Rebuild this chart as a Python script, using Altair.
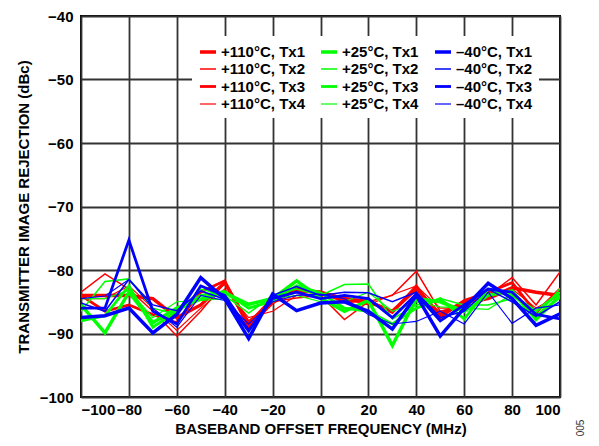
import altair as alt
import pandas as pd

freq = list(range(-100, 101, 10))

red_tx1 = [-84.0, -84.0, -84.0, -84.5, -87.5, -85.5, -82.0, -88.5, -84.5, -83.3, -83.5, -84.5, -85.0, -86.5, -83.0, -87.0, -85.0, -84.5, -82.8, -83.5, -84.0]
red_tx2 = [-83.5, -80.6, -83.0, -86.5, -90.4, -86.5, -82.0, -88.0, -85.0, -84.4, -84.0, -87.8, -85.0, -84.0, -80.2, -86.5, -85.5, -84.0, -81.2, -85.5, -80.3]
red_tx3 = [-84.0, -86.5, -85.5, -87.0, -88.3, -83.5, -81.7, -89.0, -85.2, -83.0, -83.5, -85.0, -84.8, -86.7, -82.5, -87.5, -84.8, -83.5, -82.0, -86.7, -83.0]
red_tx4 = [-84.5, -84.5, -82.5, -86.0, -89.5, -86.0, -83.0, -87.5, -86.5, -84.0, -83.8, -84.5, -85.5, -83.9, -82.5, -86.0, -86.0, -84.5, -83.0, -86.0, -84.0]

green_tx1 = [-85.5, -89.9, -83.5, -88.3, -86.0, -84.6, -83.6, -85.4, -84.5, -81.7, -84.4, -86.5, -84.8, -91.9, -84.5, -85.0, -86.5, -84.0, -83.3, -87.8, -84.0]
green_tx2 = [-86.5, -81.8, -81.4, -86.0, -87.0, -83.0, -84.0, -86.8, -84.0, -83.0, -84.0, -82.3, -82.2, -87.7, -85.5, -84.5, -85.5, -85.5, -84.5, -87.5, -82.9]
green_tx3 = [-88.0, -87.2, -82.5, -89.0, -86.5, -84.0, -83.4, -86.0, -84.9, -82.5, -83.6, -86.0, -86.5, -88.5, -86.0, -84.5, -87.7, -83.0, -84.0, -86.5, -83.5]
green_tx4 = [-84.5, -84.5, -83.2, -87.5, -85.0, -84.8, -84.5, -85.5, -84.5, -84.0, -85.0, -85.0, -83.5, -86.5, -85.0, -85.8, -86.0, -86.2, -83.8, -87.0, -84.5]

blue_tx1 = [-87.5, -87.2, -86.0, -89.9, -87.0, -81.2, -84.5, -90.8, -83.8, -86.4, -85.2, -85.0, -86.5, -89.3, -84.0, -90.4, -86.0, -82.1, -84.5, -88.7, -86.9]
blue_tx2 = [-85.2, -86.5, -81.5, -85.5, -86.4, -83.3, -84.6, -89.8, -84.0, -82.6, -84.0, -83.5, -83.6, -85.0, -83.5, -87.5, -86.5, -83.0, -85.0, -87.3, -85.0]
blue_tx3 = [-86.0, -86.0, -75.3, -86.5, -88.5, -82.5, -84.0, -89.5, -84.5, -83.5, -84.5, -84.0, -84.5, -87.5, -83.8, -88.0, -85.5, -83.0, -83.5, -87.0, -87.7]
blue_tx4 = [-84.5, -84.1, -81.5, -86.0, -89.0, -84.0, -84.8, -88.5, -85.0, -84.0, -83.8, -84.5, -87.0, -88.5, -88.1, -86.5, -88.5, -83.5, -88.4, -86.0, -85.5]

temps = ["+110°C", "+25°C", "–40°C"]
temp_colors = ["#FF0000", "#00FF00", "#0000FF"]
txs = ["Tx1", "Tx2", "Tx3", "Tx4"]
tx_widths = [3.5, 1.5, 2.8, 1.2]

series_values = {
    ("+110°C", "Tx1"): red_tx1, ("+110°C", "Tx2"): red_tx2,
    ("+110°C", "Tx3"): red_tx3, ("+110°C", "Tx4"): red_tx4,
    ("+25°C", "Tx1"): green_tx1, ("+25°C", "Tx2"): green_tx2,
    ("+25°C", "Tx3"): green_tx3, ("+25°C", "Tx4"): green_tx4,
    ("–40°C", "Tx1"): blue_tx1, ("–40°C", "Tx2"): blue_tx2,
    ("–40°C", "Tx3"): blue_tx3, ("–40°C", "Tx4"): blue_tx4,
}

# Vega fills the legend grid column by column: one column per temperature
domain = [f"{t}, {tx}" for t in temps for tx in txs]
color_range = [temp_colors[temps.index(t)] for t in temps for tx in txs]
width_range = [tx_widths[txs.index(tx)] for t in temps for tx in txs]

rows = []
order = 0
for t in temps:
    for tx in txs:
        for f, v in zip(freq, series_values[(t, tx)]):
            rows.append({"freq": f, "value": v, "series": f"{t}, {tx}", "order": order})
        order += 1
df = pd.DataFrame(rows)

FONT = "Liberation Sans"

legend = alt.Legend(
    title=None, orient="none", legendX=111, legendY=20, columns=3,
    symbolType="stroke", symbolSize=256, rowPadding=0, columnPadding=9,
    labelFont=FONT, labelFontSize=15, labelFontWeight="bold", labelColor="black",
    labelLimit=300, fillColor="white", padding=6, labelOffset=3,
)

lines = alt.Chart(df).mark_line(clip=True, strokeJoin="miter").encode(
    x=alt.X("freq:Q", scale=alt.Scale(domain=[-100, 100], nice=False, zero=False),
            axis=alt.Axis(values=list(range(-100, 101, 20)), labelOverlap=False,
                          title="BASEBAND OFFSET FREQUENCY (MHz)", labelPadding=5, titlePadding=4)),
    y=alt.Y("value:Q", scale=alt.Scale(domain=[-100, -40], nice=False, zero=False),
            axis=alt.Axis(values=list(range(-100, -39, 10)), labelOverlap=False,
                          title="TRANSMITTER IMAGE REJECTION (dBc)", labelPadding=8, titlePadding=8)),
    color=alt.Color("series:N", scale=alt.Scale(domain=domain, range=color_range), legend=legend),
    strokeWidth=alt.StrokeWidth("series:N", scale=alt.Scale(type="ordinal", domain=domain, range=width_range),
                                legend=legend),
    order=alt.Order("order:Q"),
)

note = alt.Chart(pd.DataFrame({"t": ["005"]})).mark_text(
    angle=270, font=FONT, fontSize=10, color="#333333"
).encode(text="t:N", x=alt.value(500), y=alt.value(412))

chart = alt.layer(lines, note).properties(
    width=479, height=381,
    padding={"left": 73, "top": 8, "right": 31, "bottom": 41},
    autosize=alt.AutoSizeParams(type="none"),
).configure_view(
    stroke="black", strokeWidth=2
).configure_axis(
    grid=True, gridColor="#333333", gridWidth=1.8, domain=False, ticks=False,
    labelFont=FONT, labelFontSize=15, labelFontWeight="bold", labelColor="black",
    titleFont=FONT, titleFontSize=15, titleFontWeight="bold", titleColor="black",
)

chart.save("out.html", embed_options={"renderer": "svg", "actions": False})
